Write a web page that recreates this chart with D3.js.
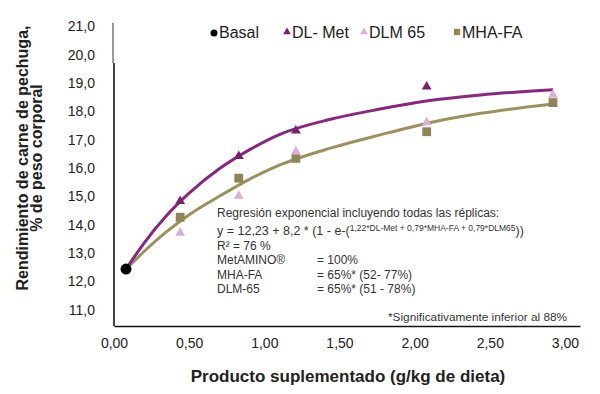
<!DOCTYPE html>
<html>
<head>
<meta charset="utf-8">
<script src="https://cdn.jsdelivr.net/npm/d3@7"></script>
<style>
  body { margin: 0; background: #fff; }
  svg { font-family: "Liberation Sans", Arial, sans-serif; }
</style>
</head>
<body>
<svg width="600" height="394"></svg>
<script>
// data
var doses = [0.44, 0.83, 1.21, 2.08, 2.92];
var basal = [{x: 0.08, y: 12.43}];
var dlMet = [14.83, 16.42, 17.32, 18.87];
var mhaFa = [14.26, 15.64, 16.34, 17.28, 18.31];
var dlm65 = [13.71, 15.01, 16.58, 17.61, 18.58];

// fitted curves
var curveX = [0.08, 0.2, 0.35, 0.5, 0.7, 0.9, 1.1, 1.44, 1.77, 2.1, 2.44, 2.92];
var dlMetCurve = [12.43, 13.35, 14.32, 15.11, 15.97, 16.64, 17.18, 17.72, 18.08, 18.38, 18.58, 18.76];
var mhaCurve = [12.43, 13.05, 13.75, 14.35, 15.0, 15.6, 16.1, 16.70, 17.17, 17.6, 17.93, 18.26];

var xTicks = [0, 0.5, 1, 1.5, 2, 2.5, 3];
var yTicks = [11, 12, 13, 14, 15, 16, 17, 18, 19, 20, 21];

var colPurple = "#87287f", colPurpleDark = "#7a2070", colPink = "#dcb0d4",
    colOlive = "#8f8558", colOliveLine = "#9b915f";

var svg = d3.select("svg"),
  width = +svg.attr("width"),
  height = +svg.attr("height");

var margin = {top: 23, right: 20, bottom: 68, left: 114};
var w = width - margin.left - margin.right,
    h = height - margin.top - margin.bottom;

var g = svg.append("g").attr("transform", "translate(" + margin.left + "," + margin.top + ")");

var x = d3.scaleLinear().domain([0, 3.1]).range([0, w]);
var y = d3.scaleLinear().domain([10.42, 21.12]).range([h, 0]);

var comma = function(n, k) { return n.toFixed(k).replace(".", ","); };

// axes
var yAxis = g.append("g")
  .call(d3.axisLeft(y).tickValues(yTicks).tickSize(0).tickSizeOuter(0).tickPadding(19)
    .tickFormat(function(d) { return comma(d, 1); }));
var xAxis = g.append("g")
  .attr("transform", "translate(0," + h + ")")
  .call(d3.axisBottom(x).tickValues(xTicks).tickSize(0).tickSizeOuter(0).tickPadding(12)
    .tickFormat(function(d) { return comma(d, 2); }));
[yAxis, xAxis].forEach(function(a) {
  a.select(".domain").attr("stroke", "#111").attr("stroke-width", 1.6);
  a.selectAll("text").attr("font-size", 14).attr("fill", "#222")
    .attr("font-family", "Liberation Sans, Arial, sans-serif");
});
// the top of the y axis is drawn thinner in the original
yAxis.select(".domain").attr("d", "M0," + h + "V40");
yAxis.append("line").attr("x1", -1).attr("x2", -1).attr("y1", 0).attr("y2", 40)
  .attr("stroke", "#333").attr("stroke-width", 1);

// curves
var line = d3.line()
  .x(function(d) { return x(d[0]); })
  .y(function(d) { return y(d[1]); })
  .curve(d3.curveMonotoneX);

g.append("path")
  .datum(d3.zip(curveX, mhaCurve))
  .attr("d", line).attr("fill", "none")
  .attr("stroke", colOliveLine).attr("stroke-width", 3);
g.append("path")
  .datum(d3.zip(curveX, dlMetCurve))
  .attr("d", line).attr("fill", "none")
  .attr("stroke", colPurple).attr("stroke-width", 3);

// points
var tri = d3.symbol().type(d3.symbolTriangle).size(42);
var sq = d3.symbol().type(d3.symbolSquare).size(78);

g.selectAll(".dlmet")
  .data(d3.zip(doses, dlMet))
  .enter().append("path")
    .attr("class", "dlmet")
    .attr("d", tri)
    .attr("transform", function(d) { return "translate(" + x(d[0]) + "," + y(d[1]) + ")"; })
    .attr("fill", colPurpleDark);

g.selectAll(".mha")
  .data(d3.zip(doses, mhaFa))
  .enter().append("path")
    .attr("class", "mha")
    .attr("d", sq)
    .attr("transform", function(d) { return "translate(" + x(d[0]) + "," + y(d[1]) + ")"; })
    .attr("fill", colOlive);

g.selectAll(".dlm65")
  .data(d3.zip(doses, dlm65))
  .enter().append("path")
    .attr("class", "dlm65")
    .attr("d", tri)
    .attr("transform", function(d) { return "translate(" + x(d[0]) + "," + y(d[1]) + ")"; })
    .attr("fill", colPink);

g.selectAll(".basal")
  .data(basal)
  .enter().append("circle")
    .attr("cx", function(d) { return x(d.x); })
    .attr("cy", function(d) { return y(d.y); })
    .attr("r", 5.5)
    .attr("fill", "#000");

// legend
var legend = [
  {name: "Basal", kind: "circle", color: "#000", x: 214},
  {name: "DL- Met", kind: "tri", color: colPurpleDark, x: 287},
  {name: "DLM 65", kind: "tri", color: colPink, x: 364},
  {name: "MHA-FA", kind: "sq", color: colOlive, x: 457}
];
var lg = svg.append("g").attr("transform", "translate(0,32)");
legend.forEach(function(d) {
  if (d.kind == "circle") {
    lg.append("circle").attr("cx", d.x).attr("cy", 1).attr("r", 3.5).attr("fill", d.color);
  } else if (d.kind == "tri") {
    lg.append("path").attr("d", d3.symbol().type(d3.symbolTriangle).size(26))
      .attr("transform", "translate(" + d.x + ",0)").attr("fill", d.color);
  } else {
    lg.append("path").attr("d", d3.symbol().type(d3.symbolSquare).size(40))
      .attr("transform", "translate(" + d.x + ",0)").attr("fill", d.color);
  }
  lg.append("text").attr("x", d.x + 5).attr("y", 6)
    .attr("font-size", 16).attr("fill", "#222").text(d.name);
});

// axis titles
svg.append("text")
  .attr("transform", "translate(28,158) rotate(-90)")
  .attr("text-anchor", "middle").attr("font-weight", "bold").attr("font-size", 16)
  .attr("fill", "#222")
  .text("Rendimiento de carne de pechuga,");
svg.append("text")
  .attr("transform", "translate(42,158) rotate(-90)")
  .attr("text-anchor", "middle").attr("font-weight", "bold").attr("font-size", 16)
  .attr("fill", "#222")
  .text("% de peso corporal");
svg.append("text")
  .attr("x", 348).attr("y", 382)
  .attr("text-anchor", "middle").attr("font-weight", "bold").attr("font-size", 17)
  .attr("fill", "#222")
  .text("Producto suplementado (g/kg de dieta)");

// regression note
var note = svg.append("g").attr("font-size", 12).attr("fill", "#333");
note.append("text").attr("x", 217).attr("y", 217)
  .text("Regresión exponencial incluyendo todas las réplicas:");
var eq = note.append("text").attr("x", 217).attr("y", 235).attr("font-size", 12.5);
eq.append("tspan").text("y = 12,23 + 8,2 * (1 - e-(");
eq.append("tspan").attr("font-size", 8.5).attr("dy", -4)
  .text("1,22*DL-Met + 0,79*MHA-FA + 0,79*DLM65");
eq.append("tspan").attr("dy", 4).text("))");
note.append("text").attr("x", 217).attr("y", 250).text("R² = 76 %");
var rows = [["MetAMINO®", "= 100%"], ["MHA-FA", "= 65%* (52- 77%)"], ["DLM-65", "= 65%* (51 - 78%)"]];
rows.forEach(function(r, i) {
  note.append("text").attr("x", 217).attr("y", 264 + i * 14.6).text(r[0]);
  note.append("text").attr("x", 317).attr("y", 264 + i * 14.6).text(r[1]);
});
note.append("text").attr("x", 567).attr("y", 321).attr("text-anchor", "end")
  .attr("font-size", 11.8).text("*Significativamente inferior al 88%");
</script>
</body>
</html>
